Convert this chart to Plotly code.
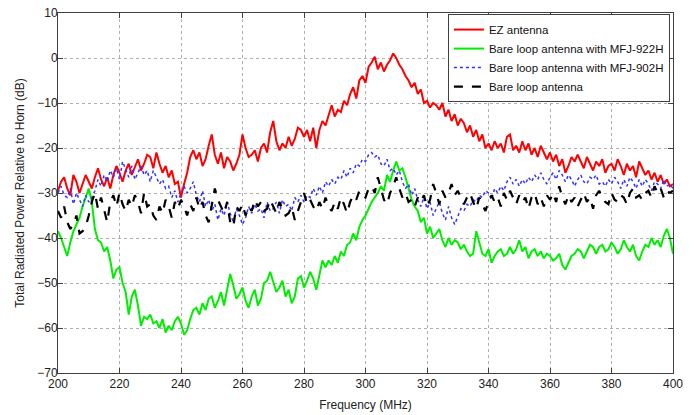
import plotly.graph_objects as go

freq_start = 200
freq_step = 1

ez_antenna = [
    -29.5, -27.5, -26.5, -29, -30.5, -26, -27.5, -30, -28, -26,
    -27.5, -29, -26.5, -24.5, -27, -28.5, -26.5, -29, -26, -24,
    -25.5, -27.5, -25, -23.5, -26, -24, -22.5, -25, -23.5, -21.5,
    -22, -24.5, -21, -23.5, -25.5, -24, -26.5, -25, -28, -27.5,
    -31, -28, -25.5, -22, -20.5, -22.5, -21, -24, -22.5, -19.5,
    -17, -21.5, -23.5, -21, -24.5, -22, -23, -25, -23.5, -21.5,
    -17, -20, -22, -21.5, -20.5, -23, -20, -19, -21, -16.5,
    -14, -18.5, -20.5, -19, -20, -17.5, -19.5, -18, -15.5, -16,
    -17.5, -16, -18.5, -15.5, -20, -16, -14, -15, -12.5, -10.5,
    -13, -11.5, -12, -9.5, -10.5, -8, -6.5, -9, -5, -4,
    -5.5, -2, -1, 0.3, -2.5, -1, -3, -1.5, -0.5, 1,
    0, -1.5, -2.5, -4, -5, -6.5, -5.5, -8, -7, -10,
    -9.5, -11, -10, -10.5, -11.5, -10, -13, -11.5, -14, -12.5,
    -15, -13.5, -14.5, -16.5, -15, -17.5, -16, -18.5, -17, -20,
    -19, -20.5, -18.5, -20, -19, -21, -17.5, -17, -20.5, -19.5,
    -21, -18.5, -20.5, -19, -21.5, -20, -22, -19.5, -21, -22.5,
    -21, -23, -21.5, -24, -22.5, -25.5, -24, -22, -23, -21.5,
    -23, -24.5, -22, -23.5, -25, -23, -24, -22.5, -25.5, -24,
    -23.5, -25, -22.5, -24, -26, -23.5, -25, -24, -26.5, -23,
    -24.5, -26, -25, -27, -25.5, -27.5, -26, -28, -27, -28.5,
    -28,
]

mfj_922h = [
    -38.5, -40, -42, -44, -41, -38.5, -37, -35.5, -33, -31,
    -29, -32, -38, -40.5, -41, -43, -42, -45, -49, -47,
    -46.5, -50, -52, -57, -53, -51.5, -55, -59.5, -57.5, -58,
    -57, -59, -58.5, -60, -58, -61, -59.5, -60.5, -58.5, -57.5,
    -59, -61.5, -60.5, -58, -56, -55.5, -57, -54.5, -56, -53.5,
    -53, -55.5, -54, -52, -55, -51.5, -48, -50.5, -53.5, -52.5,
    -51, -54, -55.5, -53, -51.5, -55, -53.5, -50, -49.5, -47.5,
    -50, -52, -51, -49.5, -53, -51.5, -54.5, -53, -49, -48.5,
    -51, -49.5, -47.5, -49, -51.5, -48, -45, -46.5, -45, -46,
    -44, -45.5, -43, -44, -41.5, -41, -39, -40.5, -37.5, -36,
    -35, -33.5, -32, -31, -30, -28.5, -29.5, -26, -27.5, -25,
    -23, -25, -24.5, -26.5, -29, -31.5, -33, -34, -36.5, -35.5,
    -39, -37.5, -40, -39, -38, -40.5, -42, -40, -41.5, -40.5,
    -41, -42.5, -41.5, -43, -44, -43.5, -38.5, -41, -43.5, -44,
    -42.5, -45.5, -44, -43, -42.5, -44, -43.5, -42, -43.5, -42.5,
    -40.5, -43, -42, -44.5, -43, -42.5, -44, -43, -44.5, -43.5,
    -44, -45, -44.5, -43.5, -46, -47, -45.5, -44, -43.5, -42.5,
    -43, -44.5, -43, -41.5, -42, -43.5, -42, -41.5, -43, -42.5,
    -41, -42, -43.5, -42.5, -40.5, -42, -43, -41.5, -44, -45,
    -43, -41.5, -42, -40, -41.5, -40.5, -42, -39.5, -38, -40,
    -43.5,
]

mfj_902h = [
    -30, -28.5, -30.5, -31, -29, -32.5, -30, -31.5, -33, -30.5,
    -32, -31, -29.5, -27, -28.5, -26, -27.5, -25, -26.5, -24.5,
    -27, -23, -25, -26.5, -24, -27, -25.5, -24, -26, -25,
    -27.5, -25, -26.5, -28, -27, -29, -28.5, -31, -29.5, -32,
    -30, -28.5, -30, -29, -27.5, -30.5, -32, -29.5, -33, -31.5,
    -34, -32.5, -36, -33.5, -35, -32, -34.5, -36.5, -33.5, -35,
    -37, -35.5, -33, -34.5, -32.5, -34, -33.5, -35.5, -32, -34,
    -33.5, -32, -34.5, -31.5, -33, -32.5, -34, -31, -32, -30.5,
    -32, -30.5, -31, -29, -30.5, -28.5, -30, -27.5, -28.5, -27,
    -28, -26.5, -27, -25, -26.5, -24.5, -25.5, -23.5, -24, -22.5,
    -23, -21.5, -21, -22, -21.5, -23.5, -24, -22.5, -25, -24.5,
    -26, -25, -27.5, -29, -28, -30.5, -29, -31.5, -33, -31,
    -33.5, -32, -35, -33.5, -32, -34.5, -36, -33, -35.5, -37,
    -35, -33.5, -34, -32.5, -33, -31.5, -32, -30.5, -31, -29.5,
    -30, -31.5, -29, -30, -28.5, -29.5, -27.5, -26.5, -28, -27,
    -28.5, -27, -28, -26.5, -27.5, -26, -27, -25.5, -27, -28,
    -26.5, -25.5, -27, -25, -26, -27.5, -26, -27, -28.5, -27,
    -26, -27.5, -28, -26.5, -27, -26, -28, -27.5, -28.5, -27,
    -28, -26.5, -27.5, -29, -27, -28.5, -26.5, -27.5, -29, -27,
    -28.5, -27, -28, -29.5, -27.5, -28, -29, -27, -28.5, -28,
    -29,
]

bare_loop = [
    -34, -35.5, -33, -36.5, -38, -37, -35, -39, -38.5, -37.5,
    -35, -32, -30, -33.5, -31, -34, -36.5, -32, -30.5, -33,
    -30, -32.5, -34, -31.5, -33, -30.5, -32, -34.5, -30, -33,
    -32.5, -35, -36, -33, -34.5, -31.5, -33, -35.5, -32, -33.5,
    -31.5, -33, -35, -32.5, -34, -31, -33.5, -32, -35, -36.5,
    -33, -29, -31.5, -33, -34.5, -32, -36.5, -37.5, -33, -34,
    -32.5, -35, -33, -34, -31.5, -33, -32, -34, -33.5, -31.5,
    -33, -34.5, -32, -33.5, -35, -34.5, -33, -36, -34, -32.5,
    -30, -32.5, -31.5, -33, -34, -32, -33.5, -31, -33, -34,
    -32, -33.5, -31, -32.5, -34.5, -32, -30.5, -31.5, -29.5, -30.5,
    -31, -29, -28.5, -30, -26.5, -29, -31.5, -32.5, -30, -28.5,
    -26.5, -29, -31, -30, -32, -31.5, -33, -31, -32, -30.5,
    -33, -31.5, -28, -30, -32.5, -29.5, -31, -30, -28, -30.5,
    -29.5, -31, -32.5, -31, -30, -32, -33.5, -31, -32.5, -34,
    -32, -30.5, -32, -31, -33, -30, -31.5, -29.5, -31, -32.5,
    -30.5, -32, -31, -33.5, -31, -30, -32.5, -31, -33, -30.5,
    -31.5, -30, -32, -28.5, -31, -32.5, -30.5, -32, -31, -33,
    -31.5, -30, -32, -31, -33.5, -30.5, -29.5, -31, -32, -32.5,
    -30, -31.5, -32, -30.5, -31, -32.5, -30, -29, -31, -30.5,
    -31.5, -30, -29.5, -31, -28.5, -30, -29, -31, -29.5, -30,
    -29.5,
]

x_ticks = [200, 220, 240, 260, 280, 300, 320, 340, 360, 380, 400]
y_ticks = [10, 0, -10, -20, -30, -40, -50, -60, -70]

freqs = [freq_start + i * freq_step for i in range(len(ez_antenna))]

series = [
    ("EZ antenna", ez_antenna, "#ff0000", "solid", 2),
    ("Bare loop antenna with MFJ-922H", mfj_922h, "#00ee00", "solid", 2),
    ("Bare loop antenna with MFJ-902H", mfj_902h, "#3333ff", "dot", 1.5),
    ("Bare loop antenna", bare_loop, "#000000", "dash", 2.2),
]

fig = go.Figure()
for name, vals, color, dash, width in series:
    fig.add_trace(go.Scatter(
        x=freqs, y=vals, mode="lines", name=name,
        line=dict(color=color, dash=dash, width=width),
    ))

axis_common = dict(
    showgrid=True, gridcolor="#b0b0b0", griddash="dot", gridwidth=1,
    showline=True, linecolor="#404040", linewidth=1, mirror="ticks",
    ticks="inside", ticklen=5, tickcolor="#404040",
    zeroline=False, automargin=False,
    tickfont=dict(family="Liberation Sans, Arial", size=12, color="#222"),
)

fig.update_layout(
    width=695, height=415,
    margin=dict(l=58, r=22, t=13, b=42),
    paper_bgcolor="white", plot_bgcolor="white",
    font=dict(family="Liberation Sans, Arial", size=12, color="#222"),
    xaxis=dict(range=[200, 400], tickvals=x_ticks,
               title=dict(text="Frequency (MHz)", standoff=10,
                          font=dict(size=12)), **axis_common),
    yaxis=dict(range=[-70, 10], tickvals=y_ticks, ticklabelstandoff=-3,
               title=dict(text="Total Radiated Power Relative to Horn (dB)",
                          standoff=10, font=dict(size=12)), **axis_common),
    legend=dict(x=0.995, y=0.997, xanchor="right", yanchor="top",
                bgcolor="white", bordercolor="#404040", borderwidth=1,
                font=dict(family="Liberation Sans, Arial", size=11.5, color="#111"),
                tracegroupgap=0, itemwidth=30),
    showlegend=True,
)

fig.write_html("out.html", config={"displayModeBar": False},
               post_script="document.body.style.margin='0';")
